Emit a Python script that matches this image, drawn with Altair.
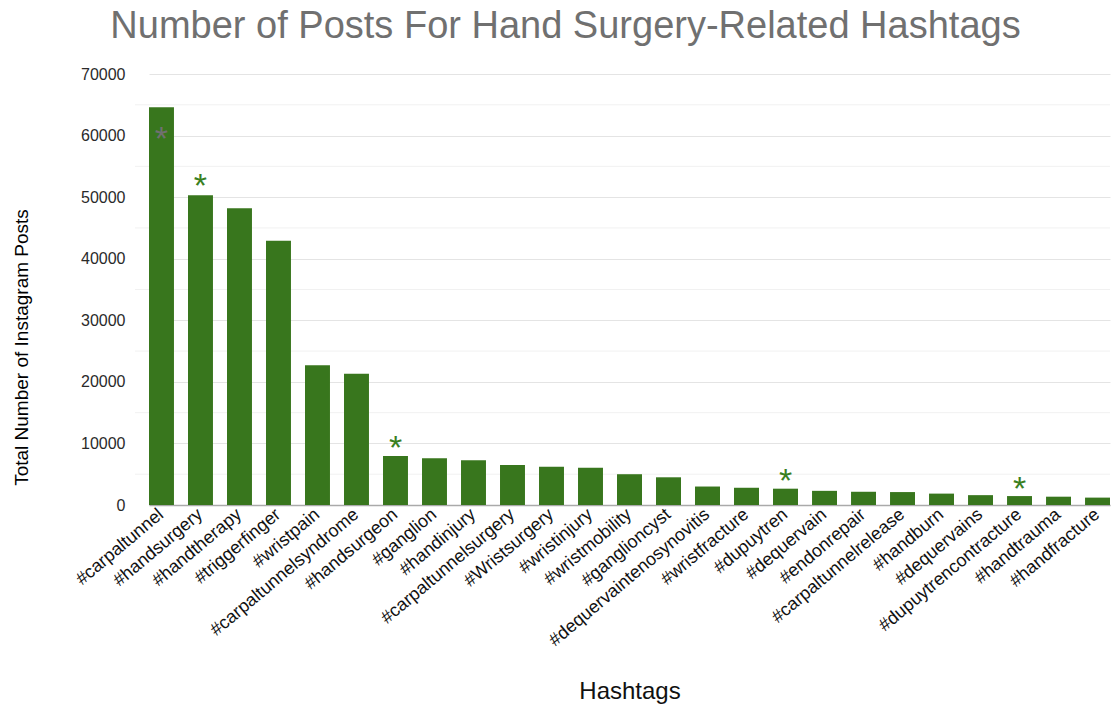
import altair as alt
import pandas as pd

hashtags = ["#carpaltunnel", "#handsurgery", "#handtherapy", "#triggerfinger", "#wristpain",
            "#carpaltunnelsyndrome", "#handsurgeon", "#ganglion", "#handinjury",
            "#carpaltunnelsurgery", "#Wristsurgery", "#wristinjury", "#wristmobility",
            "#ganglioncyst", "#dequervaintenosynovitis", "#wristfracture", "#dupuytren",
            "#dequervain", "#endonrepair", "#carpaltunnelrelease", "#handburn",
            "#dequervains", "#dupuytrencontracture", "#handtrauma", "#handfracture"]
posts = [64600, 50300, 48200, 42900, 22700, 21300, 7950, 7600, 7250, 6500, 6200, 6050,
         5000, 4500, 3000, 2800, 2650, 2300, 2150, 2100, 1850, 1600, 1450, 1350, 1200]

star_tags = ["#carpaltunnel", "#handsurgery", "#handsurgeon", "#dupuytren", "#dupuytrencontracture"]
star_pos = [60900, 53200, 10700, 5300, 4000]
star_kind = ["grey", "green", "green", "green", "green"]

minor_grid = [5000, 15000, 25000, 35000, 45000, 55000, 65000]
major_ticks = [0, 10000, 20000, 30000, 40000, 50000, 60000, 70000]

bars_df = pd.DataFrame({"tag": hashtags, "posts": posts})
stars_df = pd.DataFrame({"tag": star_tags, "pos": star_pos, "kind": star_kind})
minor_df = pd.DataFrame({"v": minor_grid})

FONT = "Liberation Sans"

x_scale = alt.Scale(paddingInner=0.36, paddingOuter=0, range=[14, 975])

x_enc = alt.X("tag:N", sort=hashtags, scale=x_scale,
              axis=alt.Axis(title="Hashtags", labelAngle=-40, labelAlign="right",
                            labelBaseline="middle", labelFontSize=18, labelColor="#111111",
                            labelFont=FONT, labelPadding=7, ticks=False, grid=False,
                            labelLimit=0,
                            domainColor="#aaaaaa", domainWidth=1.5,
                            titleFont=FONT, titleFontSize=24, titleFontWeight="normal",
                            titleColor="#111111", titleY=198, titleBaseline="bottom",
                            labelOverlap=False))

y_scale = alt.Scale(domain=[0, 70000], nice=False)

minor = alt.Chart(minor_df).mark_rule(color="#f1f1f1", strokeWidth=1).encode(
    y=alt.Y("v:Q", scale=y_scale),
    x=alt.value(0), x2=alt.value(975)
)

bars = alt.Chart(bars_df).mark_bar(color="#38761d").encode(
    x=x_enc,
    y=alt.Y("posts:Q", scale=y_scale,
            axis=alt.Axis(values=major_ticks, format="d", title="Total Number of Instagram Posts",
                          domain=False, ticks=False, grid=True, gridColor="#e4e4e4", gridWidth=1,
                          labelFont=FONT, labelFontSize=16, labelColor="#2a2a2a",
                          labelPadding=10,
                          titleFont=FONT, titleFontSize=19,
                          titleFontWeight="normal", titleColor="#000000",
                          titleX=-114, titleY=273, titleAngle=-90,
                          titleBaseline="middle", titleAlign="center"))
)

stars = alt.Chart(stars_df).mark_text(text="*", fontSize=34, font=FONT, baseline="middle", dy=10).encode(
    x=alt.X("tag:N", sort=hashtags, scale=x_scale),
    y=alt.Y("pos:Q", scale=y_scale),
    color=alt.Color("kind:N", scale=alt.Scale(domain=["grey", "green"], range=["#707070", "#3a801f"]),
                    legend=None)
)

chart = alt.layer(minor, bars, stars).properties(
    width=975, height=431,
    title=alt.TitleParams("Number of Posts For Hand Surgery-Related Hashtags",
                          font=FONT, fontSize=38, fontWeight="normal", color="#707070",
                          anchor="middle", dx=-57, offset=20),
    autosize=alt.AutoSizeParams(type="none"),
    padding={"left": 135, "top": 74, "right": 1, "bottom": 200},
).configure_view(stroke=None)

chart.save("out.html", embed_options={"renderer": "svg", "actions": False})
